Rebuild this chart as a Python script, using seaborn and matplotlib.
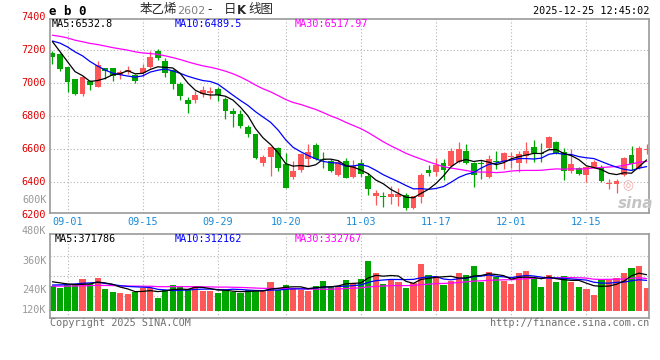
import numpy as np
import pandas as pd
import matplotlib
matplotlib.use("Agg")
import matplotlib.pyplot as plt
import seaborn as sns

# ---- data (price in yuan/ton, volume in thousands of lots) ----
# 80 trading days, 2025-08-28 .. 2025-12-25, National Day holiday (10-01..10-08) closed
dates = [d for d in pd.bdate_range("2025-08-28", "2025-12-25")
         if not (pd.Timestamp("2025-10-01") <= d <= pd.Timestamp("2025-10-08"))]

open_ = [7184, 7178, 7095, 7022, 6936, 7013, 6978, 7089, 7092, 7050,
         7065, 7050, 7060, 7099, 7194, 7134, 7079, 6993, 6898, 6900,
         6934, 6942, 6964, 6904, 6833, 6813, 6733, 6693, 6519, 6556,
         6610, 6511, 6430, 6475, 6540, 6626, 6542, 6531, 6445, 6531,
         6431, 6516, 6439, 6320, 6318, 6312, 6314, 6324, 6248, 6314,
         6475, 6460, 6519, 6501, 6525, 6590, 6516, 6512, 6431, 6531,
         6531, 6552, 6519, 6562, 6612, 6580, 6610, 6642, 6582, 6469,
         6489, 6445, 6491, 6495, 6390, 6390, 6445, 6566, 6489, 6594]
high = [7196, 7184, 7098, 7025, 7045, 7019, 7135, 7090, 7093, 7080,
        7103, 7052, 7113, 7194, 7206, 7150, 7083, 7009, 6914, 6954,
        6982, 6978, 6978, 6914, 6848, 6838, 6747, 6695, 6566, 6614,
        6612, 6576, 6530, 6576, 6630, 6640, 6586, 6540, 6536, 6546,
        6536, 6542, 6455, 6354, 6344, 6378, 6364, 6338, 6320, 6455,
        6505, 6550, 6540, 6606, 6642, 6634, 6525, 6536, 6566, 6592,
        6586, 6586, 6592, 6642, 6656, 6640, 6683, 6652, 6610, 6604,
        6495, 6495, 6536, 6505, 6419, 6419, 6552, 6620, 6622, 6630]
low = [7114, 7072, 6948, 6928, 6924, 6958, 6975, 7025, 7013, 7025,
       7053, 6998, 7039, 7089, 7140, 7039, 6963, 6898, 6821, 6880,
       6914, 6902, 6892, 6783, 6733, 6727, 6676, 6540, 6499, 6439,
       6469, 6366, 6420, 6465, 6499, 6536, 6486, 6465, 6439, 6425,
       6425, 6435, 6324, 6264, 6253, 6270, 6258, 6234, 6240, 6278,
       6440, 6440, 6415, 6495, 6519, 6512, 6371, 6419, 6425, 6479,
       6479, 6486, 6465, 6519, 6525, 6520, 6604, 6570, 6415, 6455,
       6445, 6405, 6485, 6405, 6362, 6334, 6439, 6475, 6479, 6570]
close = [7160, 7082, 7009, 6932, 7039, 6987, 7109, 7073, 7045, 7069,
         7079, 7012, 7090, 7160, 7150, 7062, 6993, 6924, 6872, 6930,
         6958, 6954, 6928, 6832, 6813, 6741, 6693, 6546, 6552, 6612,
         6489, 6368, 6469, 6570, 6582, 6542, 6536, 6471, 6525, 6429,
         6499, 6449, 6359, 6334, 6314, 6330, 6328, 6244, 6318, 6445,
         6455, 6505, 6475, 6592, 6602, 6516, 6445, 6508, 6540, 6525,
         6576, 6562, 6572, 6590, 6576, 6570, 6676, 6580, 6469, 6511,
         6449, 6491, 6525, 6409, 6398, 6411, 6546, 6512, 6606, 6604]
volume = [267, 252, 282, 282, 329, 282, 341, 240, 217, 208,
          199, 217, 252, 252, 163, 231, 279, 270, 240, 261,
          223, 223, 208, 231, 217, 202, 231, 231, 231, 306,
          231, 279, 252, 231, 225, 270, 312, 261, 270, 320,
          291, 329, 490, 383, 285, 320, 306, 252, 291, 463,
          365, 356, 276, 314, 383, 365, 445, 300, 392, 350,
          314, 285, 383, 401, 335, 258, 365, 303, 356, 306,
          258, 240, 187, 329, 320, 338, 383, 427, 445, 249]

# estimated August sessions before the window, only used to start the moving averages
prior_close = [7280, 7300, 7340, 7320, 7290, 7310, 7350, 7330, 7300, 7304,
               7320, 7290, 7270, 7300, 7330, 7310, 7280, 7290, 7310, 7301,
               7210, 7240, 7230, 7280, 7330, 7382, 7314, 7232, 7162]
prior_volume = [250, 270, 240, 280, 260, 255, 265, 245, 275, 260,
                250, 270, 255, 265, 260, 245, 275, 260, 250, 280,
                240, 255, 230, 260, 250, 300, 330, 310, 318]

tick_labels = ["09-01", "09-15", "09-29", "10-20", "11-03", "11-17", "12-01", "12-15"]
price_labels = [7400, 7200, 7000, 6800, 6600, 6400, 6200]

# ---- build frames ----
df = pd.DataFrame({"date": dates, "open": open_, "high": high, "low": low,
                   "close": close, "volume": volume})
df["x"] = np.arange(len(df))
n_prior = len(prior_close)
all_close = pd.Series(prior_close + close)
all_vol = pd.Series(prior_volume + volume)
for n in (5, 10, 30):
    df[f"ma{n}"] = all_close.rolling(n).mean().iloc[n_prior:].to_numpy()
    df[f"vma{n}"] = all_vol.rolling(n).mean().iloc[n_prior:].to_numpy()

RED = "#ff5757"
GREEN = "#00a600"
up = df["close"] >= df["open"]
colors = np.where(up, RED, GREEN)
tick_pos = [df.index[df["date"].dt.strftime("%m-%d") == t][0] for t in tick_labels]

sns.set_style("white")
plt.rcParams["font.family"] = ["DejaVu Sans Mono", "Noto Sans CJK SC"]

W, H = 660, 360
fig = plt.figure(figsize=(6.6, 3.6), dpi=100)
fig.patch.set_facecolor("white")


def px(x0, y0, x1, y1):
    return [x0 / W, 1 - y1 / H, (x1 - x0) / W, (y1 - y0) / H]


ax = fig.add_axes(px(50, 19, 649, 213.3))
axv = fig.add_axes(px(50, 234.3, 649, 317.7))

grid_kw = dict(color="#b4b4b4", linestyle=(0, (1, 2)), linewidth=0.8)
for a in (ax, axv):
    a.set_xlim(-0.33, 79.32)
    a.set_xticks(tick_pos)
    a.tick_params(length=0)
    a.grid(True, **grid_kw)
    a.set_axisbelow(True)
    for s in a.spines.values():
        s.set_color("#9a9a9a")
        s.set_linewidth(1.2)

# ---- price panel ----
ax.set_ylim(6213, 7387)
ax.set_yticks([6400, 6600, 6800, 7000, 7200])
ax.set_yticklabels([])
ax.set_xticklabels(tick_labels, color="#1a8ad8", fontsize=7.3)
ax.tick_params(axis="x", pad=3)

ax.vlines(df["x"], df["low"], df["high"], colors=colors, linewidth=0.9, zorder=2)
body_lo = df[["open", "close"]].min(axis=1)
body_h = (df["close"] - df["open"]).abs().clip(lower=6)
ax.bar(df["x"], body_h, bottom=body_lo, width=0.78, color=colors, linewidth=0, zorder=2)

sns.lineplot(data=df, x="x", y="ma30", color="#ff00ff", linewidth=0.9, ax=ax, zorder=3)
sns.lineplot(data=df, x="x", y="ma10", color="#0000ff", linewidth=0.9, ax=ax, zorder=3)
sns.lineplot(data=df, x="x", y="ma5", color="black", linewidth=0.9, ax=ax, zorder=3)
ax.set_xlabel("")
ax.set_ylabel("")

for p in price_labels:
    ax.text(-0.007, p, str(p), transform=ax.get_yaxis_transform(), ha="right",
            va="center", color="#e00000", fontsize=7.3, clip_on=False)

ax.text(52 / W, 1 - 23.7 / H, "MA5:6532.8", transform=fig.transFigure, color="black", fontsize=7.3, va="center")
ax.text(175 / W, 1 - 23.7 / H, "MA10:6489.5", transform=fig.transFigure, color="#0000ff", fontsize=7.3, va="center")
ax.text(295 / W, 1 - 23.7 / H, "MA30:6517.97", transform=fig.transFigure, color="#ff00ff", fontsize=7.3, va="center")

# sina watermark
fig.text(628 / W, 1 - 186 / H, "◎", color="#f2a8a8", fontsize=9, ha="center", va="center",
         family="DejaVu Sans")
fig.text(636 / W, 1 - 203 / H, "sina", color="#c4c4c4", fontsize=11, ha="center", va="center",
         style="italic", weight="bold", family="DejaVu Sans")

# ---- volume panel ----
vol_floor = 42
axv.set_ylim(-18, 732)
axv.set_yticks([180, 360, 540])
axv.set_yticklabels([])
axv.set_xticklabels([])
axv.bar(df["x"], df["volume"] - vol_floor, bottom=vol_floor, width=0.82, color=colors,
        linewidth=0, zorder=2)
sns.lineplot(data=df, x="x", y="vma30", color="#ff00ff", linewidth=0.9, ax=axv, zorder=3)
sns.lineplot(data=df, x="x", y="vma10", color="#0000ff", linewidth=0.9, ax=axv, zorder=3)
sns.lineplot(data=df, x="x", y="vma5", color="black", linewidth=0.9, ax=axv, zorder=3)
axv.set_xlabel("")
axv.set_ylabel("")

for lab, y in [("600K", 200.3), ("480K", 230.7), ("360K", 260.7), ("240K", 290), ("120K", 310)]:
    fig.text(46.5 / W, 1 - y / H, lab, color="#999999", fontsize=7.3, ha="right", va="center")

fig.text(55 / W, 1 - 239 / H, "MA5:371786", color="black", fontsize=7.3, va="center")
fig.text(175 / W, 1 - 239 / H, "MA10:312162", color="#0000ff", fontsize=7.3, va="center")
fig.text(295 / W, 1 - 239 / H, "MA30:332767", color="#ff00ff", fontsize=7.3, va="center")

# ---- header / footer ----
fig.text(49 / W, 1 - 11.5 / H, "e b 0", color="black", fontsize=9, weight="bold", va="center")
cjk = ["Noto Sans CJK SC", "DejaVu Sans"]
fig.text(140 / W, 1 - 10 / H, "苯乙烯", family=cjk, fontsize=9, va="center")
fig.text(177 / W, 1 - 11 / H, "2602", family="DejaVu Sans", color="#808080", fontsize=8, va="center")
fig.text(207 / W, 1 - 10 / H, "-", family="DejaVu Sans", fontsize=9, va="center")
fig.text(224 / W, 1 - 10 / H, "日", family=cjk, fontsize=9, va="center")
fig.text(237 / W, 1 - 10 / H, "K", family="DejaVu Sans", weight="bold", fontsize=8.5, va="center")
fig.text(248 / W, 1 - 10 / H, "线图", family=cjk, fontsize=9, va="center")
fig.text(649 / W, 1 - 11.5 / H, "2025-12-25 12:45:02", color="black", fontsize=7.3, ha="right", va="center")

fig.text(50 / W, 1 - 322.7 / H, "Copyright 2025 SINA.COM", color="#707070", fontsize=7.3, va="center")
fig.text(649 / W, 1 - 323.3 / H, "http://finance.sina.com.cn", color="#707070", fontsize=7.3,
         ha="right", va="center")

fig.savefig("out.png", dpi=100)
